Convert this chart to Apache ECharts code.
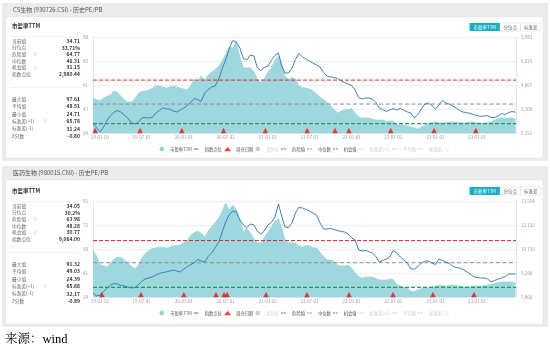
<!DOCTYPE html>
<html><head><meta charset="utf-8">
<script src="https://cdn.jsdelivr.net/npm/echarts@6/dist/echarts.min.js"></script>
<style>html,body{margin:0;padding:0;background:#fff}#c{width:550px;height:362px}</style>
</head><body><div id="c"></div>
<script>
// ---------------- DATA ----------------
const dates = [
'2018-12-01','2018-12-16',
'2019-01-01','2019-01-16','2019-02-01','2019-02-16','2019-03-01','2019-03-16','2019-04-01','2019-04-16','2019-05-01','2019-05-16','2019-06-01','2019-06-16',
'2019-07-01','2019-07-16','2019-08-01','2019-08-16','2019-09-01','2019-09-16','2019-10-01','2019-10-16','2019-11-01','2019-11-16','2019-12-01','2019-12-16',
'2020-01-01','2020-01-16','2020-02-01','2020-02-16','2020-03-01','2020-03-16','2020-04-01','2020-04-16','2020-05-01','2020-05-16','2020-06-01','2020-06-16',
'2020-07-01','2020-07-16','2020-08-01','2020-08-16','2020-09-01','2020-09-16','2020-10-01','2020-10-16','2020-11-01','2020-11-16','2020-12-01','2020-12-16',
'2021-01-01','2021-01-16','2021-02-01','2021-02-16','2021-03-01','2021-03-16','2021-04-01','2021-04-16','2021-05-01','2021-05-16','2021-06-01','2021-06-16',
'2021-07-01','2021-07-16','2021-08-01','2021-08-16','2021-09-01','2021-09-16','2021-10-01','2021-10-16','2021-11-01','2021-11-16','2021-12-01','2021-12-16',
'2022-01-01','2022-01-16','2022-02-01','2022-02-16','2022-03-01','2022-03-16','2022-04-01','2022-04-16','2022-05-01','2022-05-16','2022-06-01','2022-06-16',
'2022-07-01','2022-07-16','2022-08-01','2022-08-16','2022-09-01','2022-09-16','2022-10-01','2022-10-16','2022-11-01','2022-11-16','2022-12-01','2022-12-16',
'2023-01-01','2023-01-16','2023-02-01','2023-02-16','2023-03-01','2023-03-16','2023-04-01','2023-04-16','2023-05-01','2023-05-16','2023-06-01','2023-06-16',
'2023-07-01','2023-07-16','2023-08-01','2023-08-16','2023-09-01','2023-09-16','2023-10-01','2023-10-16','2023-11-01','2023-11-16','2023-12-01','2023-12-16'];

// Panel 1: CS生物
const pe1 = [50.98,49.82,48.67,50.98,52.52,53.29,56.38,55.61,52.52,49.82,
 47.90,47.90,50.21,54.45,55.99,56.38,57.15,58.30,60.23,60.23,
 59.46,58.69,59.46,60.23,59.46,58.69,57.92,57.53,61.00,65.63,
 63.31,67.94,64.86,68.71,71.02,72.95,75.65,79.50,84.90,90.29,
 89.52,94.60,82.58,74.11,74.11,74.49,71.02,65.63,62.93,65.63,
 71.02,74.11,80.27,83.35,77.96,67.94,65.24,66.78,65.63,60.23,
 59.07,58.69,57.92,56.76,54.06,51.75,49.82,47.51,44.81,42.12,
 39.42,40.96,41.73,42.12,42.89,39.42,36.34,35.57,35.57,35.57,
 34.79,34.02,34.02,34.02,32.87,33.25,33.25,30.55,30.17,30.17,
 29.40,28.63,28.24,26.90,28.63,29.78,31.33,32.10,32.48,32.10,
 31.71,32.10,32.48,32.48,32.48,32.10,31.71,32.10,32.48,32.48,
 32.10,31.71,31.71,32.10,32.48,34.02,35.18,35.57,35.57,35.57,
 35.57,34.71];
const idx1 = [2550,2371,2191,2391,2670,2850,2969,3049,2989,2870,
 2750,2570,2510,2570,2750,2770,2750,2770,2949,3049,
 3149,3109,3109,3029,2989,3069,3149,3249,3389,3528,
 3488,3408,3748,3888,3987,4027,4307,4726,5065,5504,
 5844,5784,5544,5125,5065,5265,5225,4746,4646,4766,
 4826,5045,5245,5345,4866,4546,4546,4746,5085,5325,
 5185,5105,5025,4945,4866,4786,4566,4426,4387,4367,
 4327,4227,4167,4107,4047,3868,3568,3508,3548,3548,
 3508,3369,3149,3089,3009,3069,3129,3069,3129,3069,
 2989,2949,2750,2890,3109,3309,3349,3249,3109,3269,
 3448,3349,3309,3229,3149,3049,2989,2969,2929,2890,
 2850,2810,2830,2850,2770,2770,2830,2929,2890,2969,
 3009,2980];
const rebal1 = ['2018-12-10','2019-06-24','2019-12-23','2020-06-22','2020-12-21','2021-06-21','2021-10-20','2021-12-20','2022-06-20','2022-12-26','2023-06-26'];
const lv1 = {danger:64.77, median:46.31, chance:31.15, sdUp:65.78, mean:48.51, sdDown:31.24};
const peAxis1 = {min:24, max:98, step:18.5};
const idxAxis1 = {min:2151, max:5983, step:958};

// Panel 2: 医药生物
const pe2 = [57.29,53.04,46.67,45.96,45.25,48.09,50.56,52.34,51.98,50.56,
 48.09,45.96,44.19,45.96,51.63,54.46,56.94,58.36,58.71,59.42,
 59.06,58.71,59.42,60.13,60.48,60.83,62.61,64.02,67.92,69.69,
 70.75,69.33,66.50,70.75,73.94,76.77,79.96,84.92,90.58,85.63,
 89.17,86.33,78.54,70.40,72.88,69.33,65.08,62.61,61.90,66.15,
 70.04,73.94,77.48,79.60,73.58,64.73,62.25,62.61,62.25,60.13,
 59.42,60.48,60.13,59.06,58.71,55.52,52.69,50.21,50.21,49.15,
 46.67,45.96,45.96,46.67,44.54,41.00,38.52,37.46,38.17,38.17,
 38.17,37.11,36.04,36.04,36.04,36.75,36.40,32.86,31.79,30.73,
 30.38,28.25,27.90,28.96,30.02,30.38,30.38,31.09,31.79,32.50,
 32.15,31.79,32.15,32.50,32.15,31.79,31.44,31.09,31.44,31.79,
 31.79,31.79,32.15,32.50,33.21,33.57,34.27,34.63,34.63,34.63,
 34.63,34.05];
const idx2 = [8103,7925,7985,8192,8399,8577,8666,8636,8547,8518,
 8459,8399,8429,8577,8784,8933,8992,9051,9170,9258,
 9318,9347,9407,9466,9407,9347,9525,9673,9792,9910,
 10088,9999,9940,10266,10473,10769,11125,11717,12310,12725,
 12962,12902,12428,12132,11984,12191,12132,11777,11599,11777,
 12132,12280,12606,13376,12725,12014,11984,12251,12843,13169,
 13139,13050,12962,12843,12725,12251,11895,11895,11925,11865,
 11806,11747,11717,11599,11362,11243,10651,10592,10621,10562,
 10473,10266,9940,10029,10118,10236,10621,10473,10236,10058,
 9851,9525,9525,9673,9881,9999,9999,9881,9792,10118,
 10029,9910,9881,9703,9614,9584,9495,9377,9229,9081,
 9021,8992,8992,8933,8755,8844,8933,8992,9081,9229,
 9229,9229];
const rebal2 = ['2019-01-09','2019-06-28','2020-01-01','2020-05-20','2020-06-24','2020-07-07','2020-12-24','2021-06-20','2021-12-20','2022-06-30','2022-12-21','2023-06-18'];
const lv2 = {danger:63.98, median:48.28, chance:30.77, sdUp:65.88, mean:49.03, sdDown:32.17};
const peAxis2 = {min:24, max:92, step:17};
const idxAxis2 = {min:7866, max:13554, step:1422};

const xRange = ['2018-12-01','2023-12-18'];
const xTickDates = ['2019-01-01','2019-07-01','2020-01-01','2020-07-01','2021-01-01','2021-07-01','2022-01-01','2022-07-01','2023-01-01','2023-07-01'];

const titles = ['CS生物 (930726.CSI) - 历史PE/PB', '医药生物 (980015.CNI) - 历史PE/PB'];
const statTitle = '市盈率TTM';
const statLabelsA = ['当前值','分位点','危险值','中位数','机会值','指数点位'];
const statLabelsB = ['最大值','平均值','最小值','标准差(+1)','标准差(-1)','Z分数'];
const statsA = [['34.71','33.71%','64.77','46.31','31.15','2,980.44'], ['34.05','30.2%','63.98','48.28','30.77','9,064.00']];
const statsB = [['97.61','48.51','24.71','65.78','31.24','-0.80'], ['91.32','49.03','24.39','65.88','32.17','-0.89']];
const infoA = [2,4], infoB = [3];
const buttons = ['市盈率TTM','分位点','标准差'];
const legendNames = ['市盈率TTM','指数点位','调仓日期','百分位','危险值','中位数','机会值','标准差(+1)','平均值','标准差(-1)'];
const source = '来源：wind';

// ---------------- CHART ----------------
const FONT = '"Noto Sans CJK SC","Noto Sans",sans-serif';
const chart = echarts.init(document.getElementById('c'), null, {renderer:'canvas', width:550, height:362});
const pad = n => String(n).padStart(2,'0');
const toTs = s => { const p = s.split('-').map(Number); return new Date(p[0], p[1]-1, p[2]).getTime(); };
const fmtDate = v => { const d = new Date(v); return String(d.getFullYear()).slice(2)+'-'+pad(d.getMonth()+1)+'-'+pad(d.getDate()); };
const fmtK = v => Math.round(v).toLocaleString('en-US');
const ICON_SOLID = 'path://M0,0M10,10M0,3.8h10v2.4h-10z';
const ICON_DASH = 'path://M0,0M10,10M0,3.8h3.8v2.4h-3.8zM6.2,3.8h3.8v2.4h-3.8z';

const panels = [
  {pe:pe1, idx:idx1, rebal:rebal1, lv:lv1, pa:peAxis1, ia:idxAxis1},
  {pe:pe2, idx:idx2, rebal:rebal2, lv:lv2, pa:peAxis2, ia:idxAxis2}
];
const PY = [0, 164];
const tickTs = xTickDates.map(toTs);
const dateTs = dates.map(toTs);
const x0 = toTs(xRange[0]), x1 = toTs(xRange[1]);

const grid = [], xAxis = [], yAxis = [], series = [], legend = [];
panels.forEach((P, i) => {
  grid.push({left:93, right:34, top:37+PY[i], height:96, containLabel:false, outerBoundsMode:'none'});
  xAxis.push({type:'value', gridIndex:i, min:x0, max:x1,
    axisLine:{show:true, lineStyle:{color:'#e2e2e2', width:1}}, axisTick:{show:false}, splitLine:{show:false},
    axisLabel:{fontSize:4.5, color:'#999', fontFamily:FONT, margin:2, formatter:fmtDate, customValues:tickTs, hideOverlap:false}});
  yAxis.push({type:'value', gridIndex:i, position:'left', min:P.pa.min, max:P.pa.max, interval:P.pa.step,
    axisLine:{show:true, lineStyle:{color:'#e6e6e6'}}, axisTick:{show:false},
    splitLine:{show:true, lineStyle:{color:'#eeeeee', width:1}},
    axisLabel:{fontSize:4.5, color:'#999', fontFamily:FONT, margin:5, formatter:v=>String(Math.round(v))}});
  yAxis.push({type:'value', gridIndex:i, position:'right', min:P.ia.min, max:P.ia.max, interval:P.ia.step,
    axisLine:{show:true, lineStyle:{color:'#e6e6e6'}}, axisTick:{show:false}, splitLine:{show:false},
    axisLabel:{fontSize:4.5, color:'#999', fontFamily:FONT, margin:5, formatter:fmtK}});
  const yl = i*2, yr = i*2+1;
  const hline = (name, v, color, dash, w) => ({name, type:'line', xAxisIndex:i, yAxisIndex:yl, symbol:'none',
    data:[[x0, v],[x1, v]], lineStyle:{color, type:dash, width:w}, itemStyle:{color}, z:4, silent:true});
  series.push(
    {name:'市盈率TTM', type:'line', xAxisIndex:i, yAxisIndex:yl, symbol:'none', data:dateTs.map((d,k)=>[d,P.pe[k]]),
      lineStyle:{color:'#93d2db', width:0.6}, itemStyle:{color:'#8ed0da'}, areaStyle:{color:'#9fd7df', opacity:1}, z:1, silent:true},
    {name:'指数点位', type:'line', xAxisIndex:i, yAxisIndex:yr, symbol:'none', data:dateTs.map((d,k)=>[d,P.idx[k]]),
      lineStyle:{color:'#3c82b5', width:1}, itemStyle:{color:'#3c82b5'}, z:5, silent:true},
    {name:'调仓日期', type:'scatter', xAxisIndex:i, yAxisIndex:yl, symbol:'triangle', symbolSize:5.5, symbolOffset:[0,-2.4],
      data:P.rebal.map(d=>[toTs(d), P.pa.min]), itemStyle:{color:'#e8141b'}, z:6, silent:true},
    {name:'百分位', type:'line', xAxisIndex:i, yAxisIndex:yl, symbol:'none', data:[], itemStyle:{color:'#bbb'}},
    hline('危险值', P.lv.danger, '#e5262b', [4,2], 1),
    hline('中位数', P.lv.median, '#8a8a8a', [4,2.5], 1),
    hline('机会值', P.lv.chance, '#1f9c58', [4,2], 1.2),
    hline('标准差(+1)', P.lv.sdUp, '#bbb', [4,2.5], 1),
    hline('平均值', P.lv.mean, '#999', [4,2.5], 1),
    hline('标准差(-1)', P.lv.sdDown, '#bbb', [4,2.5], 1)
  );
  const iconOf = n => (n==='市盈率TTM'||n==='百分位') ? 'circle' : n==='调仓日期' ? 'triangle' : n==='指数点位' ? ICON_SOLID : ICON_DASH;
  legend.push({top:146.8+PY[i], left:159.5, padding:0, itemWidth:7, itemHeight:4.5, itemGap:2.2,
    textStyle:{fontSize:4.3, color:'#555', fontFamily:FONT}, inactiveColor:'#ccc', selectedMode:false,
    selected:{'百分位':false,'标准差(+1)':false,'平均值':false,'标准差(-1)':false},
    data:legendNames.map(n => ({name:n, icon:iconOf(n)}))});
});

// ---------------- LAYOUT GRAPHICS ----------------
const g = [];
const rect = (x,y,w,h,style,z) => g.push({type:'rect', shape:{x,y,width:w,height:h}, style, z:(z===undefined?-5:z), silent:true});
const text = (x,y,t,o) => g.push({type:'text', x, y, style:Object.assign({text:t, fontFamily:FONT, fontSize:5, fill:'#555', align:'left', verticalAlign:'middle'}, o||{}), z:10, silent:true});
const PANEL = [{top:3, h:158}, {top:166, h:161}];
[0,1].forEach(i => {
  const P = PANEL[i], dy = i*165;
  rect(2, P.top, 546, P.h, {fill:'#ebebeb'}, -6);
  rect(6, P.top+14, 537, P.h-17, {fill:'#ffffff', stroke:'#e0e0e0', lineWidth:0.5}, -5);
  text(13, P.top+7, titles[i], {fontSize:6, fill:'#555'});
  const by = 23 + (i?164:0);
  rect(469.5, by, 30.5, 8, {fill:'#17afc7'}, 8);
  rect(500, by, 20.5, 8, {fill:'#fff', stroke:'#d5d5d5', lineWidth:0.5}, 8);
  rect(520.5, by, 20.5, 8, {fill:'#fff', stroke:'#d5d5d5', lineWidth:0.5}, 8);
  text(484.75, by+4, buttons[0], {align:'center', fontSize:4.5, fill:'#fff'});
  text(510.25, by+4, buttons[1], {align:'center', fontSize:4.5, fill:'#666'});
  text(530.75, by+4, buttons[2], {align:'center', fontSize:4.5, fill:'#666'});
  text(12, 26+dy, statTitle, {fontSize:5.5, fontWeight:'bold', fill:'#333'});
  rect(10, 36+dy, 71, 0.6, {fill:'#e6e6e6'}, 8);
  rect(10, 87+dy, 71, 0.6, {fill:'#e6e6e6'}, 8);
  statLabelsA.forEach((l,k) => {
    const y = 41 + k*6.6 + dy;
    text(12, y, l, {fontSize:4.7, fill:'#666'});
    if (infoA.includes(k)) text(33, y, 'ⓘ', {fontSize:4.3, fill:'#aaa', fontFamily:'DejaVu Sans'});
    text(80, y, statsA[i][k], {align:'right', fontSize:5, fontWeight:'bold', fill:'#333'});
  });
  statLabelsB.forEach((l,k) => {
    const y = 99 + k*7.4 + dy;
    text(12, y, l, {fontSize:4.7, fill:'#666'});
    if (infoB.includes(k)) text(43, y, 'ⓘ', {fontSize:4.3, fill:'#aaa', fontFamily:'DejaVu Sans'});
    text(80, y, statsB[i][k], {align:'right', fontSize:5, fontWeight:'bold', fill:'#333'});
  });
});
text(5, 340, source, {fontSize:12.5, fill:'#000', fontFamily:'"Liberation Serif","Noto Serif CJK SC","Noto Sans CJK SC",serif'});

chart.setOption({
  animation:false,
  backgroundColor:'#ffffff',
  grid, xAxis, yAxis, series, legend,
  graphic:{elements:g}
});
</script></body></html>
